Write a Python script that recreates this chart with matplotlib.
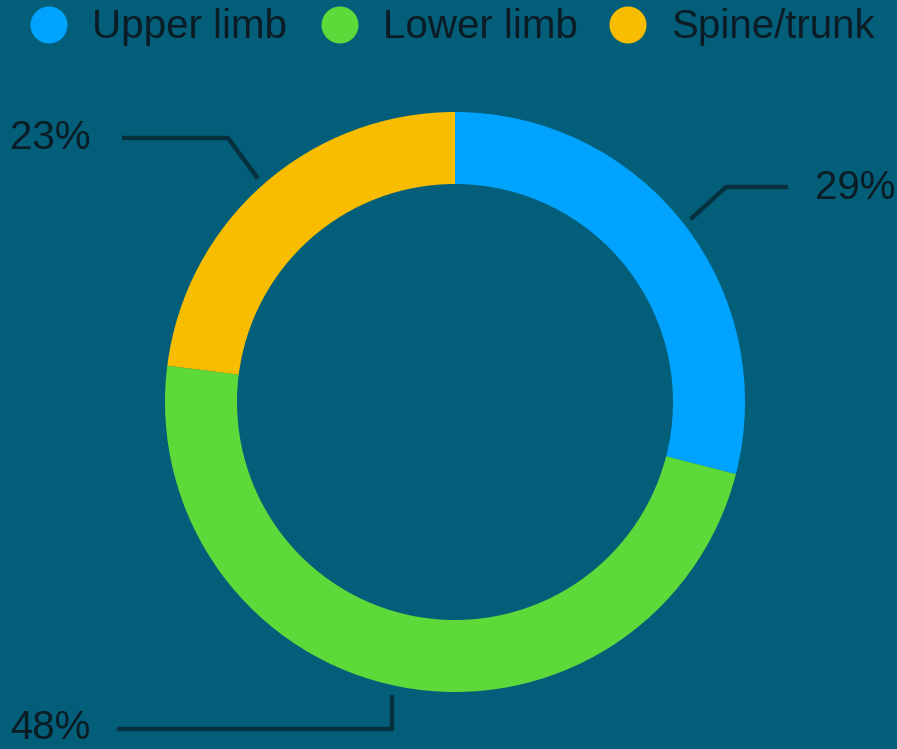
import numpy as np
import matplotlib.pyplot as plt
from matplotlib.patches import Circle

# data
labels = ['Upper limb', 'Lower limb', 'Spine/trunk']
shares = [29, 48, 23]
colors = ['#00a3ff', '#5dd93a', '#f8bc00']

W, H = 897, 749
bg = '#035f79'
ink = '#0b1c25'
line_c = '#07303f'

plt.rcParams['font.family'] = ['Liberation Sans', 'DejaVu Sans']

fig = plt.figure(figsize=(W / 100, H / 100), dpi=100, facecolor=bg)
ax = fig.add_axes([0, 0, 1, 1])
ax.set_facecolor(bg)

# donut (pixel coordinates, y up)
cx, cy, R = 455, H - 402, 290
wedges, _ = ax.pie(shares, colors=colors, startangle=90, counterclock=False,
                   center=(cx, cy), radius=R,
                   wedgeprops=dict(width=72, linewidth=0, antialiased=True))
ax.set_xlim(0, W)
ax.set_ylim(0, H)
ax.set_aspect('equal')
ax.axis('off')

# label layout: elbow point, line end, text x, text y (pixel, y down)
layout = {
    'Upper limb': dict(elbow=(726, 187), end=(788, 187), tx=815, ty=188),
    'Lower limb': dict(elbow=(392, 729), end=(117, 729), tx=10, ty=728),
    'Spine/trunk': dict(elbow=(228, 138), end=(122, 138), tx=10, ty=138),
}

for w, lab, v in zip(wedges, labels, shares):
    mid = np.deg2rad((w.theta1 + w.theta2) / 2)
    sx = cx + (R + 8) * np.cos(mid)
    sy = cy + (R + 8) * np.sin(mid)
    lo = layout[lab]
    ex, ey = lo['elbow'][0], H - lo['elbow'][1]
    if lab == 'Lower limb':
        sx = ex  # vertical drop from the ring
    ax.plot([sx, ex, lo['end'][0]], [sy, ey, H - lo['end'][1]],
            color=line_c, lw=3.2, solid_capstyle='butt')
    ax.text(lo['tx'], H - lo['ty'], f'{v}%', ha='left', va='center',
            fontsize=29, color=ink)

# legend
leg_x = [49, 340, 628]
for x, lab, c in zip(leg_x, labels, colors):
    ax.add_patch(Circle((x, H - 25), 18.5, color=c, lw=0))
    ax.text(x + 43, H - 27, lab, ha='left', va='center', fontsize=29, color=ink)

fig.savefig('out.png', dpi=100, facecolor=bg)
